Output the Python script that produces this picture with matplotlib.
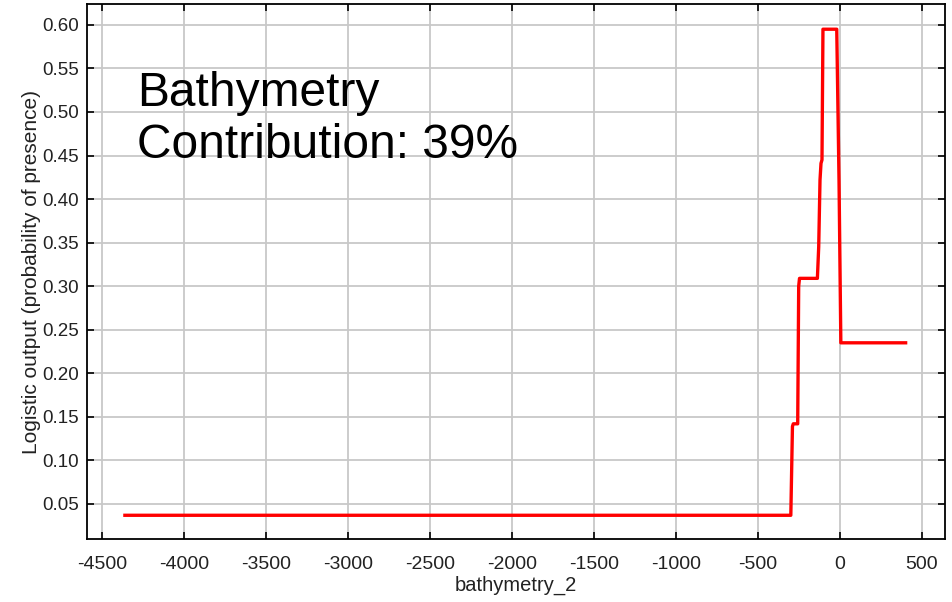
import matplotlib
matplotlib.use('Agg')
import matplotlib.pyplot as plt
import numpy as np

plt.rcParams['font.family'] = ['Liberation Sans', 'DejaVu Sans']

# response curve (bathymetry_2 vs logistic output)
bathy = [-4360, -300, -290, -285, -258, -252, -247, -138, -130, -122, -116, -110, -104, -20, -6, 5, 400]
prob = [0.037, 0.037, 0.139, 0.142, 0.142, 0.30, 0.309, 0.309, 0.345, 0.422, 0.441, 0.445, 0.595, 0.595, 0.42, 0.235, 0.235]

xticks = np.arange(-4500, 501, 500)
yticks = [0.05, 0.10, 0.15, 0.20, 0.25, 0.30, 0.35, 0.40, 0.45, 0.50, 0.55, 0.60]
ytick_labels = ['%.2f' % v for v in yticks]

fig = plt.figure(figsize=(9.53, 6.02), dpi=100)
ax = fig.add_axes([0.0913, 0.1047, 0.9003, 0.888])

ax.plot(bathy, prob, color='#ff0000', linewidth=2.4, zorder=3)

ax.set_xlim(-4591, 640)
ax.set_ylim(0.0098, 0.6235)
ax.set_xticks(xticks)
ax.set_xticklabels([str(v) for v in xticks])
ax.set_yticks(yticks)
ax.set_yticklabels(ytick_labels)

ax.grid(True, color='#c8c8c8', linewidth=1.3)
ax.set_axisbelow(True)
ax.tick_params(direction='in', length=5, width=1.2, top=True, right=True,
               labelsize=13.5, colors='black', labelcolor='#222222')
ax.tick_params(axis='x', pad=12, labelsize=14)
ax.tick_params(axis='y', pad=6)
for s in ax.spines.values():
    s.set_linewidth(1.3)

ax.set_xlabel('bathymetry_2', fontsize=14.5, color='#222222', labelpad=2)
ax.set_ylabel('Logistic output (probability of presence)', fontsize=15, color='#222222', labelpad=1)

ax.text(0.058, 0.876, 'Bathymetry\nContribution: 39%', transform=ax.transAxes,
        fontsize=34.5, va='top', ha='left', color='black', linespacing=1.2)

fig.savefig('out.png', dpi=100)
